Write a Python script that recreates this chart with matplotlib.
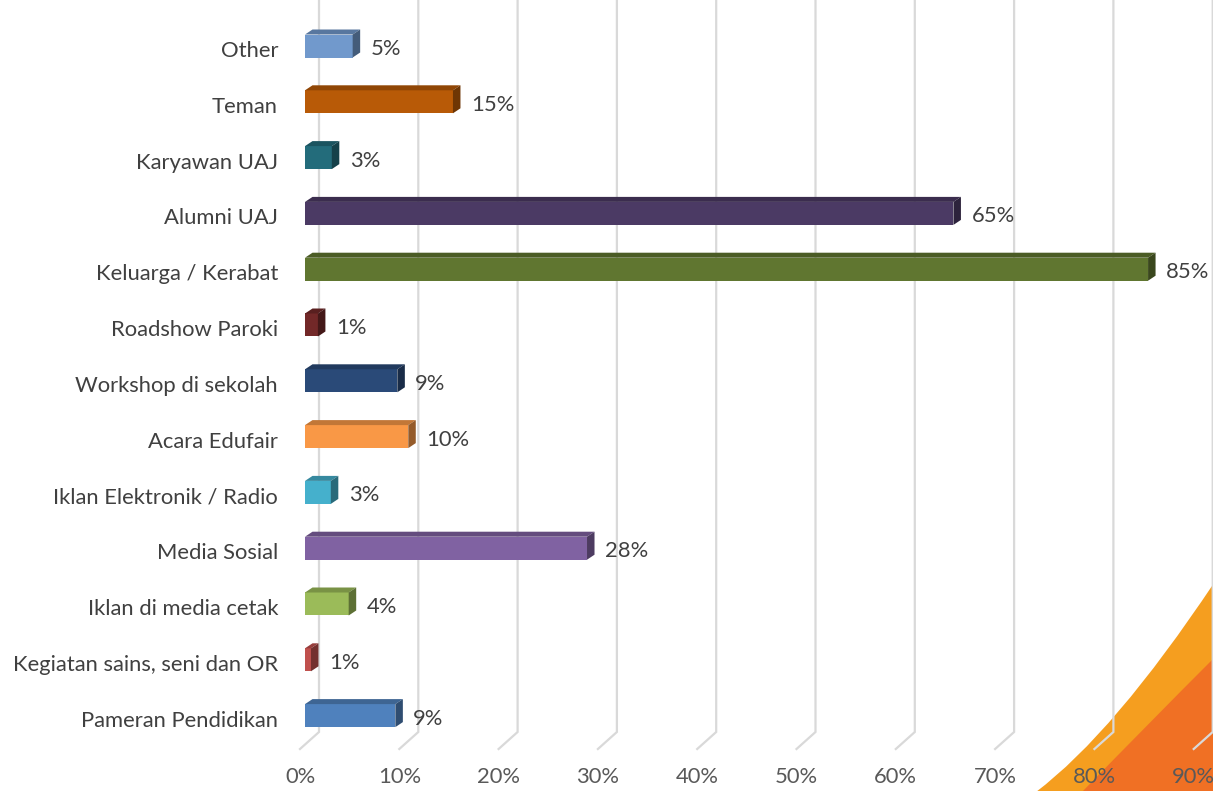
import matplotlib
matplotlib.use("Agg")
import matplotlib.pyplot as plt
from matplotlib.patches import Polygon, PathPatch
from matplotlib.path import Path
import matplotlib.colors as mcolors

plt.rcParams['font.family'] = ['Lato', 'DejaVu Sans']

categories = ["Other", "Teman", "Karyawan UAJ", "Alumni UAJ", "Keluarga / Kerabat",
              "Roadshow Paroki", "Workshop di sekolah", "Acara Edufair",
              "Iklan Elektronik / Radio", "Media Sosial", "Iklan di media cetak",
              "Kegiatan sains, seni dan OR", "Pameran Pendidikan"]
values = [4.8, 14.9, 2.7, 65.3, 84.9, 1.3, 9.3, 10.4, 2.6, 28.4, 4.4, 0.6, 9.1]
value_labels = ["5%", "15%", "3%", "65%", "85%", "1%", "9%", "10%", "3%", "28%", "4%", "1%", "9%"]
colors = ["#7199CC", "#B85A07", "#236C7B", "#4B3A64", "#607630", "#722828",
          "#2A4A78", "#F99846", "#45B0CC", "#8062A2", "#9BBB59", "#C0504D", "#4F81BD"]
ticks = [0, 10, 20, 30, 40, 50, 60, 70, 80, 90]
tick_labels = [f"{t}%" for t in ticks]

W, H = 1213, 791
fig = plt.figure(figsize=(W / 100, H / 100), dpi=100)
fig.patch.set_facecolor("white")

# background decoration (figure coords, pixel based)
def fig_pt(px, py):
    return (px / W, 1 - py / H)

def curve_patch(p0, c, p2, color):
    verts = [fig_pt(*p0), fig_pt(*c), fig_pt(*p2), fig_pt(W, p2[1]), fig_pt(W, H), fig_pt(*p0)]
    codes = [Path.MOVETO, Path.CURVE3, Path.CURVE3, Path.LINETO, Path.LINETO, Path.CLOSEPOLY]
    fig.patches.append(PathPatch(Path(verts, codes), transform=fig.transFigure,
                                 facecolor=color, edgecolor="none", zorder=0))

curve_patch((1036, 792), (1114, 733), (1214, 583), "#F59E1F")
curve_patch((1082, 792), (1150, 722), (1214, 658), "#F07024")

ax = fig.add_axes([0, 0, 1, 1])
ax.patch.set_alpha(0)
ax.set_zorder(1)
px_per_pct = 9.93
row_px = 55.8
y0_px = 46
ax.set_xlim(-305 / px_per_pct, (W - 305) / px_per_pct)
ax.set_ylim((H - y0_px) / row_px, -y0_px / row_px)
ax.axis("off")

FS = 15.8

# gridlines with perspective floor
dx_back = 14 / px_per_pct
y_bend = (732 - y0_px) / row_px
y_floor = (749 - y0_px) / row_px
dx_floor = -5 / px_per_pct
for t, lab in zip(ticks, tick_labels):
    ax.plot([t + dx_back, t + dx_back, t + dx_floor],
            [-1, y_bend, y_floor], color="#D9D9D9", lw=1.6, zorder=1,
            solid_joinstyle="miter")
    ax.text(t + dx_floor, (777 - y0_px) / row_px, lab, ha="center", va="center",
            fontsize=FS, color="#595959", zorder=3)

# 3D bars
half = 11.5 / row_px
ddx = 7.5 / px_per_pct
ddy = -5 / row_px

def shade(c, f):
    r, g, b = mcolors.to_rgb(c)
    return (r * f, g * f, b * f)

for i, (cat, v, lab, c) in enumerate(zip(categories, values, value_labels, colors)):
    top = i - half
    bot = i + half
    front = Polygon([(0, top), (v, top), (v, bot), (0, bot)], closed=True,
                    facecolor=c, edgecolor="none", zorder=4)
    topf = Polygon([(0, top), (ddx, top + ddy), (v + ddx, top + ddy), (v, top)], closed=True,
                   facecolor=shade(c, 0.78), edgecolor="none", zorder=4)
    side = Polygon([(v, top), (v + ddx, top + ddy), (v + ddx, bot + ddy), (v, bot)], closed=True,
                   facecolor=shade(c, 0.6), edgecolor="none", zorder=4)
    for p in (front, topf, side):
        ax.add_patch(p)
    ax.text(-27 / px_per_pct, i + 5 / row_px, cat, ha="right", va="center",
            fontsize=FS, color="#404040", zorder=5)
    ax.text(v + 18 / px_per_pct, i + 3 / row_px, lab, ha="left", va="center",
            fontsize=FS, color="#404040", zorder=5)

fig.savefig("out.png", dpi=100)
